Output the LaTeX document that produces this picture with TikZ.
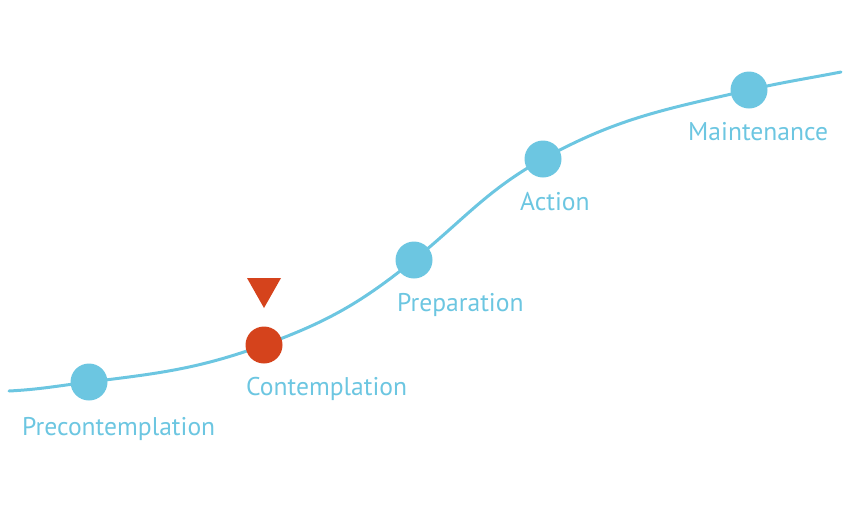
\documentclass[tikz,border=0pt]{standalone}
\usepackage{fontspec}
\setmainfont{PT Sans}
\usepackage{tikz}
\usetikzlibrary{backgrounds}

\definecolor{stageblue}{RGB}{108,198,225}
\definecolor{stagered}{RGB}{213,67,28}

\begin{document}
\begin{tikzpicture}[x=1pt, y=-1pt,
	stage dot/.style={circle, fill=#1, inner sep=0pt, minimum size=37pt},
	stage dot/.default=stageblue,
	stage label/.style={anchor=base west, inner sep=0pt, text=stageblue, font=\fontsize{25.6}{30}\selectfont},
	curve/.style={draw=stageblue, line width=3pt, line cap=round}]

	\useasboundingbox (0,0) rectangle (850,520);

	\coordinate (start) at (9,391);
	\coordinate (end) at (841,72);
	\node [stage dot] (pre) at (89,382) {};
	\node [stage dot=stagered] (con) at (264,345) {};
	\node [stage dot] (prep) at (414,260) {};
	\node [stage dot] (act) at (543,159) {};
	\node [stage dot] (main) at (749,90) {};

	\begin{scope}[on background layer]
	\draw [curve] (start) to[out=3, in=187] (pre.center)
		to[out=7, in=200] (con.center)
		to[out=20, in=219] (prep.center)
		to[out=39, in=209] (act.center)
		to[out=29, in=193] (main.center)
		to[out=13, in=191] (end);
	\end{scope}

	\fill [stagered] (247,278) -- (281,278) -- (264,308) -- cycle;

	\node [stage label] (prelabel) at (22,435) {Precontemplation};
	\node [stage label] (conlabel) at (246,395) {Contemplation};
	\node [stage label] (preplabel) at (397,311) {Preparation};
	\node [stage label] (actlabel) at (520,210) {Action};
	\node [stage label] (mainlabel) at (688,140) {Maintenance};
\end{tikzpicture}
\end{document}
